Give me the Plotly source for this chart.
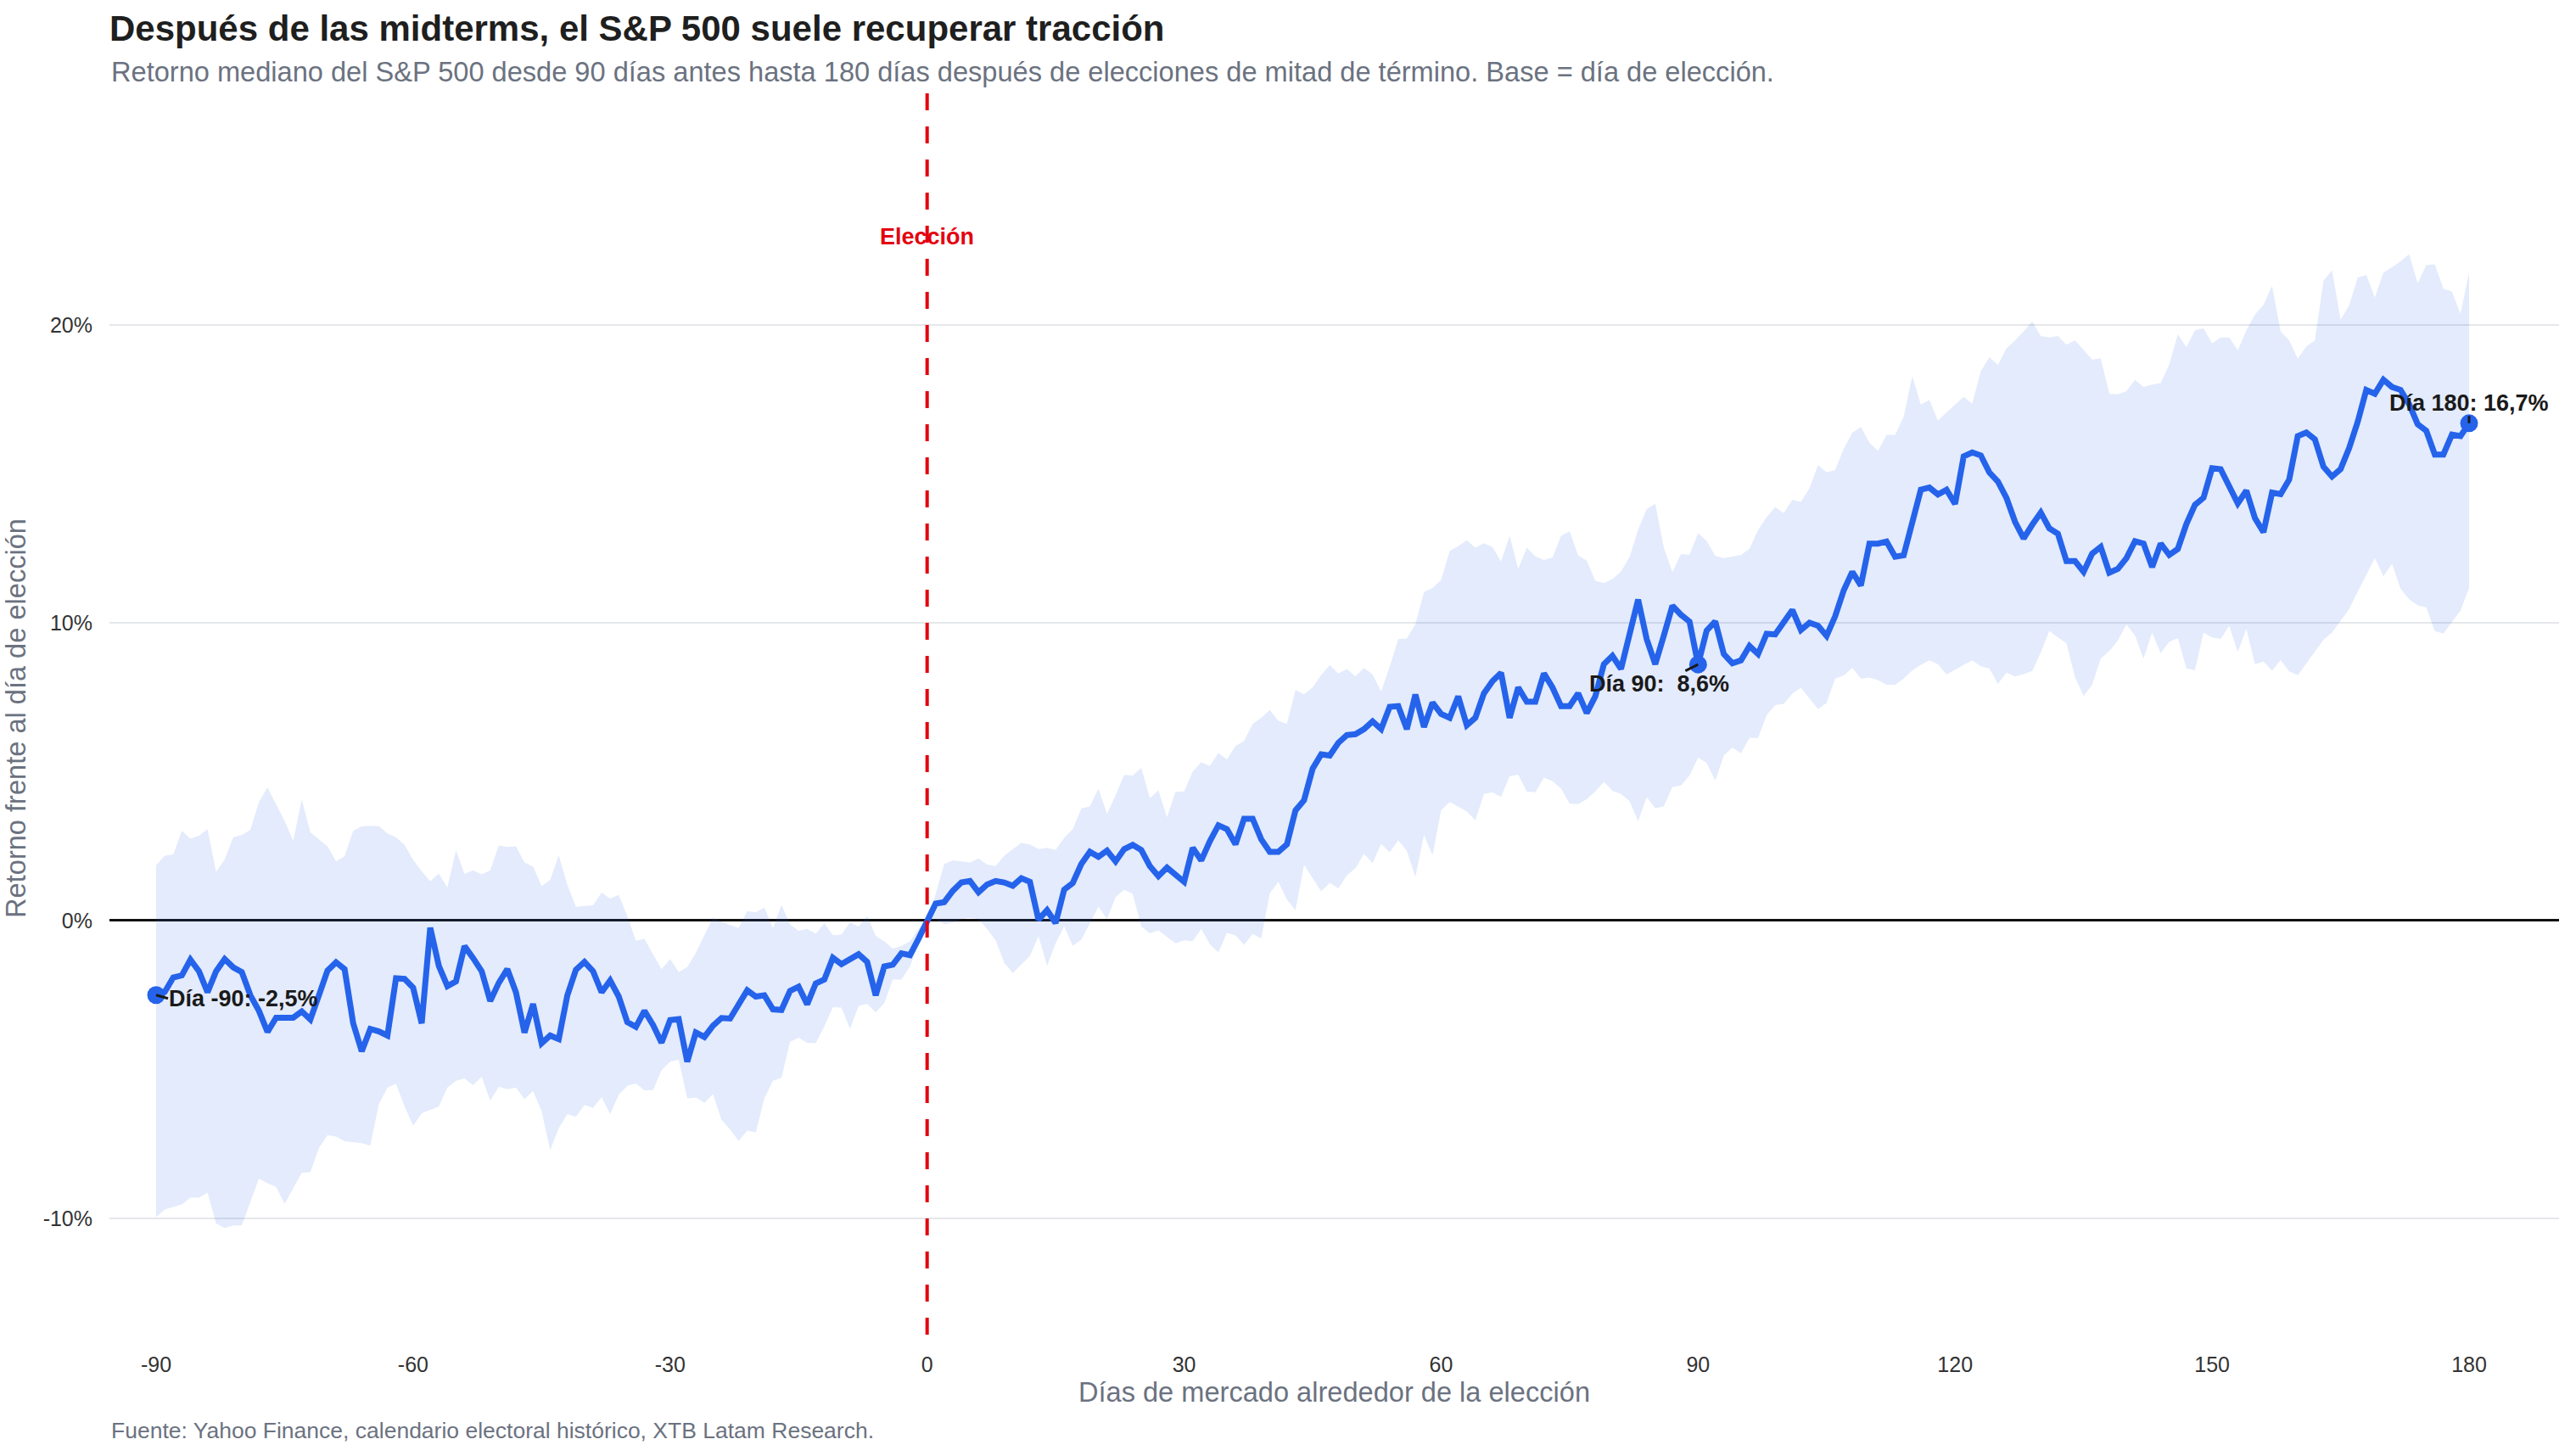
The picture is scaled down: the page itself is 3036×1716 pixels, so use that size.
import plotly.graph_objects as go

# ---------------- data ----------------
days = list(range(-90, 181))

median_pct = [
    -2.50, -2.40, -1.91, -1.84, -1.31, -1.70, -2.41, -1.70, -1.29, -1.57,
    -1.73, -2.51, -3.03, -3.74, -3.26, -3.26, -3.26, -3.05, -3.32, -2.51,
    -1.68, -1.40, -1.63, -3.45, -4.39, -3.64, -3.72, -3.86, -1.94, -1.96,
    -2.25, -3.45, -0.24, -1.52, -2.20, -2.04, -0.86, -1.26, -1.70, -2.70,
    -2.09, -1.63, -2.41, -3.76, -2.80, -4.12,
    -3.86, -3.98, -2.51, -1.65, -1.39, -1.70, -2.41, -2.01, -2.55, -3.41,
    -3.57, -3.03, -3.50, -4.10, -3.34, -3.31, -4.74, -3.76, -3.91, -3.53,
    -3.27, -3.29, -2.79, -2.34, -2.55, -2.51, -2.98, -3.00, -2.36, -2.22,
    -2.81, -2.11, -1.98, -1.25, -1.46, -1.29, -1.13, -1.39, -2.51, -1.54,
    -1.48, -1.10, -1.16, -0.61,
    0.00,
    0.57, 0.62, 1.00, 1.28, 1.33, 0.95, 1.21, 1.33, 1.28, 1.17,
    1.42, 1.30, 0.03, 0.35, -0.08, 1.04, 1.26, 1.90, 2.31, 2.14,
    2.35, 1.99, 2.40, 2.54, 2.37, 1.83, 1.49, 1.78, 1.55, 1.30,
    2.44, 2.02, 2.66, 3.20, 3.07, 2.56, 3.42, 3.42, 2.73, 2.31,
    2.31, 2.56, 3.70, 4.04, 5.10, 5.58,
    5.54, 5.97, 6.23, 6.26, 6.43, 6.69, 6.43, 7.18, 7.20, 6.43,
    7.59, 6.50, 7.32, 6.94, 6.81, 7.53, 6.56, 6.81, 7.63, 8.04,
    8.32, 6.81, 7.83, 7.35, 7.35, 8.30, 7.83, 7.20, 7.20, 7.63,
    6.97, 7.53, 8.61, 8.89, 8.45, 9.67, 10.78, 9.45, 8.61, 9.57,
    10.57, 10.27, 10.04, 8.60, 9.74, 10.05,
    8.95, 8.64, 8.74, 9.22, 8.95, 9.63, 9.61, 10.02, 10.43, 9.76,
    10.00, 9.90, 9.56, 10.22, 11.09, 11.71, 11.25, 12.66, 12.66, 12.73,
    12.22, 12.27, 13.29, 14.47, 14.54, 14.31, 14.47, 13.99, 15.59, 15.72,
    15.62, 15.05, 14.74, 14.19, 13.39, 12.83, 13.29, 13.70, 13.17, 12.99,
    12.07, 12.07, 11.71, 12.32, 12.55,
    11.68, 11.81, 12.17, 12.74, 12.66, 11.87, 12.66, 12.28, 12.48, 13.32,
    13.96, 14.20, 15.19, 15.16, 14.63, 14.01, 14.44, 13.52, 13.04, 14.37,
    14.32, 14.81, 16.27, 16.39, 16.16, 15.24, 14.91, 15.16, 15.87, 16.75,
    17.82, 17.69, 18.16, 17.92, 17.82, 17.34, 16.67, 16.45, 15.65, 15.65,
    16.32, 16.27, 16.70,
]

upper_pct = [
    1.86, 2.18, 2.22, 3.01, 2.75, 2.85, 3.07, 1.64, 2.05, 2.80,
    2.88, 3.05, 3.98, 4.47, 3.90, 3.35, 2.68, 4.07, 2.96, 2.72,
    2.49, 1.99, 2.16, 3.01, 3.16, 3.18, 3.17, 2.93, 2.80, 2.54,
    2.04, 1.66, 1.32, 1.58, 1.11, 2.36, 1.57, 1.69, 1.55, 1.69,
    2.52, 2.47, 2.49, 1.95, 1.81, 1.15,
    1.37, 2.19, 1.20, 0.46, 0.48, 0.51, 0.94, 0.74, 0.86, 0.15,
    -0.68, -0.61, -1.13, -1.63, -1.29, -1.73, -1.56, -1.08, -0.49, 0.10,
    -0.04, -0.15, -0.25, 0.32, 0.28, 0.44, -0.25, 0.53, -0.13, -0.34,
    -0.28, -0.44, -0.09, -0.49, -0.47, -0.06, -0.20, 0.15, -0.51, -0.70,
    -0.94, -0.85, -0.70, -0.28,
    0.00,
    0.90, 1.90, 2.02, 1.98, 1.95, 2.09, 1.88, 1.83, 2.18, 2.40,
    2.61, 2.56, 2.40, 2.44, 2.37, 2.78, 3.07, 3.77, 3.83, 4.43,
    3.58, 4.21, 4.89, 4.87, 5.13, 4.11, 4.37, 3.47, 4.32, 4.34,
    5.00, 5.32, 5.19, 5.63, 5.41, 5.86, 6.03, 6.60, 6.81, 7.07,
    6.71, 6.60, 7.74, 7.60, 7.83, 8.25,
    8.58, 8.30, 8.45, 8.20, 8.48, 8.27, 7.69, 8.53, 9.45, 9.47,
    9.96, 11.03, 11.17, 11.44, 12.41, 12.57, 12.77, 12.52, 12.67, 12.54,
    12.06, 12.92, 11.80, 12.52, 12.23, 12.11, 12.19, 12.92, 13.07, 12.26,
    12.09, 11.41, 11.33, 11.47, 11.72, 12.21, 13.13, 13.82, 14.00, 12.52,
    11.70, 12.31, 12.29, 13.01, 12.75, 12.25,
    12.17, 12.22, 12.27, 12.49, 13.11, 13.55, 13.88, 13.68, 14.13, 14.06,
    14.52, 15.29, 15.05, 15.13, 15.85, 16.38, 16.58, 16.05, 15.77, 16.31,
    16.31, 16.92, 18.28, 17.33, 17.48, 16.79, 17.07, 17.33, 17.59, 17.36,
    18.45, 18.92, 18.66, 19.22, 19.48, 19.78, 20.12, 19.63, 19.58, 19.63,
    19.34, 19.48, 19.17, 18.83, 18.88,
    17.69, 17.67, 17.78, 18.16, 17.92, 18.00, 18.05, 18.67, 19.69, 19.25,
    19.82, 19.89, 19.38, 19.58, 19.58, 19.15, 19.82, 20.35, 20.68, 21.32,
    19.79, 19.48, 18.87, 19.28, 19.48, 21.48, 21.84, 20.17, 20.66, 21.60,
    21.68, 20.92, 21.76, 21.94, 22.14, 22.38, 21.40, 22.01, 22.04, 21.22,
    21.12, 20.37, 21.76,
]

lower_pct = [
    -9.96, -9.70, -9.62, -9.53, -9.30, -9.30, -9.13, -10.17, -10.32, -10.24,
    -10.24, -9.44, -8.66, -8.82, -8.94, -9.51, -8.99, -8.47, -8.45, -7.64,
    -7.20, -7.25, -7.41, -7.43, -7.47, -7.56, -6.16, -5.61, -5.48, -6.24,
    -6.89, -6.47, -6.36, -6.24, -5.61, -5.38, -5.30, -5.53, -5.24, -6.05,
    -5.58, -5.66, -5.61, -6.00, -5.72, -6.40,
    -7.71, -6.97, -6.50, -6.59, -6.19, -6.29, -5.93, -6.50, -5.85, -5.55,
    -5.47, -5.70, -5.69, -5.02, -4.74, -4.67, -5.97, -5.94, -6.12, -5.83,
    -6.69, -7.02, -7.40, -7.05, -7.11, -5.97, -5.38, -5.28, -4.07, -3.93,
    -4.10, -4.12, -3.55, -2.91, -2.92, -3.63, -2.87, -2.79, -3.08, -2.77,
    -1.98, -1.98, -1.54, -0.80,
    0.00,
    0.05, -0.12, -0.07, 0.05, 0.09, 0.05, -0.28, -0.66, -1.42, -1.76,
    -1.47, -1.19, -0.52, -1.52, -0.76, -0.19, -0.85, -0.64, -0.09, 0.47,
    0.05, 0.79, 1.04, 0.90, -0.19, -0.43, -0.33, -0.54, -0.76, -0.66,
    -0.69, -0.28, -0.79, -1.07, -0.41, -0.50, -0.81, -0.45, -0.60, 0.92,
    1.30, 0.71, 0.35, 1.87, 1.42, 0.98,
    1.27, 1.08, 1.52, 1.76, 2.24, 1.93, 2.58, 2.29, 2.70, 2.34,
    1.47, 2.88, 2.19, 3.70, 3.98, 3.82, 3.67, 3.36, 4.25, 4.31,
    4.15, 4.85, 4.90, 4.34, 4.31, 4.80, 4.69, 4.44, 3.93, 3.91,
    4.08, 4.34, 4.66, 4.36, 4.25, 4.01, 3.33, 4.15, 3.77, 3.84,
    4.49, 4.54, 4.87, 5.48, 5.29, 4.70,
    5.54, 5.81, 5.62, 6.13, 6.13, 6.90, 7.24, 7.28, 7.62, 7.82,
    7.46, 7.10, 7.31, 8.13, 8.23, 8.49, 8.13, 8.16, 8.08, 7.92,
    7.92, 8.13, 8.40, 8.59, 8.74, 8.61, 8.26, 8.43, 8.59, 8.74,
    8.54, 8.47, 7.95, 8.33, 8.20, 8.28, 8.38, 9.00, 9.73, 9.51,
    9.32, 8.18, 7.54, 7.92, 8.80,
    9.05, 9.41, 9.94, 9.57, 8.80, 9.67, 8.98, 9.36, 9.49, 8.47,
    8.41, 9.67, 9.51, 9.46, 9.90, 9.02, 9.80, 8.61, 8.70, 8.39,
    8.75, 8.37, 8.24, 8.64, 9.02, 9.43, 9.67, 10.08, 10.46, 11.05,
    11.61, 12.17, 11.56, 11.99, 11.15, 10.79, 10.59, 10.52, 9.72, 9.64,
    10.03, 10.41, 11.17,
]

x_tick_vals = [-90, -60, -30, 0, 30, 60, 90, 120, 150, 180]
x_tick_text = ["-90", "-60", "-30", "0", "30", "60", "90", "120", "150", "180"]
y_tick_vals = [-10, 0, 10, 20]
y_tick_text = ["-10%", "0%", "10%", "20%"]

highlight_days = [-90, 90, 180]
highlight_labels = ["Día -90: -2,5%", "Día 90:\u00a0 8,6%", "Día 180: 16,7%"]
election_day = 0

title_text = "Después de las midterms, el S&P 500 suele recuperar tracción"
subtitle_text = ("Retorno mediano del S&P 500 desde 90 días antes hasta 180 días después "
                 "de elecciones de mitad de término. Base = día de elección.")
x_title = "Días de mercado alrededor de la elección"
y_title = "Retorno frente al día de elección"
source_text = "Fuente: Yahoo Finance, calendario electoral histórico, XTB Latam Research."
election_label = "Elección"

# ---------------- styles ----------------
FONT = "Liberation Sans, Arial, Helvetica, sans-serif"
BLUE = "#2563eb"
BAND = "rgba(37,99,235,0.13)"
RED = "#e3000f"
GRAY = "#6b7280"
DARK = "#1f1f1f"

W, H = 3036, 1716
ML, MR, MT, MB = 129, 20, 110, 133

fig = go.Figure()

# band: lower then upper filled to it
fig.add_trace(go.Scatter(x=days, y=lower_pct, mode="lines",
                         line=dict(width=0, color=BAND), hoverinfo="skip",
                         showlegend=False))
fig.add_trace(go.Scatter(x=days, y=upper_pct, mode="lines",
                         line=dict(width=0, color=BAND), fill="tonexty",
                         fillcolor=BAND, hoverinfo="skip", showlegend=False))
# median line
fig.add_trace(go.Scatter(x=days, y=median_pct, mode="lines",
                         line=dict(width=7, color=BLUE), showlegend=False))
# highlighted points
idx = [days.index(d) for d in highlight_days]
hl_y = [median_pct[i] for i in idx]
fig.add_trace(go.Scatter(x=highlight_days, y=hl_y, mode="markers",
                         marker=dict(size=21, color=BLUE), showlegend=False))

# label placements (pixel offsets / anchors)
label_style = [
    dict(ax=14, ay=4, xanchor="left", yanchor="middle"),
    dict(ax=-46, ay=23, xanchor="center", yanchor="middle"),
    dict(ax=0, ay=-24, xanchor="center", yanchor="middle"),
]
annotations = []
for d, yv, txt, st in zip(highlight_days, hl_y, highlight_labels, label_style):
    annotations.append(dict(
        x=d, y=yv, xref="x", yref="y", text=txt, showarrow=True,
        arrowhead=0, arrowwidth=3, arrowcolor="#1a1a1a", standoff=0,
        startstandoff=0, ax=st["ax"], ay=st["ay"], xanchor=st["xanchor"],
        yanchor=st["yanchor"], borderpad=0,
        font=dict(family=FONT, size=27, color="#1a1a1a", weight=700)))

# election label
annotations.append(dict(x=election_day, xref="x", y=(H - MB - 279) / (H - MB - MT), yref="paper",
                        text=election_label, showarrow=False, xanchor="center",
                        yanchor="middle",
                        font=dict(family=FONT, size=27, color=RED, weight=700)))
# subtitle
annotations.append(dict(x=0, xref="paper", y=(H - MB - 84) / (H - MB - MT), yref="paper",
                        text=subtitle_text, showarrow=False, xanchor="left",
                        yanchor="middle", font=dict(family=FONT, size=32.6, color=GRAY)))
# source
annotations.append(dict(x=0, xref="paper", y=(H - MB - 1686) / (H - MB - MT), yref="paper",
                        text=source_text, showarrow=False, xanchor="left",
                        yanchor="middle", font=dict(family=FONT, size=26.5, color=GRAY)))

fig.add_shape(type="line", xref="x", yref="paper", x0=election_day, x1=election_day,
              y0=1, y1=0, line=dict(color=RED, width=4, dash="20px,19px"), layer="above")

fig.update_layout(
    width=W, height=H,
    margin=dict(l=ML, r=MR, t=MT, b=MB),
    paper_bgcolor="white", plot_bgcolor="white",
    font=dict(family=FONT, color="#333333"),
    showlegend=False,
    title=dict(text=title_text, x=ML / W, xanchor="left", xref="container",
               y=1 - 33 / H, yanchor="middle", yref="container",
               font=dict(family=FONT, size=42, color=DARK, weight=700)),
    annotations=annotations,
    xaxis=dict(range=[-95.45, 190.5], showgrid=False, zeroline=False, showline=False,
               tickvals=x_tick_vals, ticktext=x_tick_text,
               ticks="outside", ticklen=3, tickcolor="rgba(0,0,0,0)",
               tickfont=dict(family=FONT, size=25, color="#333333"),
               title=dict(text=x_title, standoff=7,
                          font=dict(family=FONT, size=32.6, color=GRAY))),
    yaxis=dict(range=[-14.19, 27.78], showgrid=True, gridcolor="#e5e7eb", gridwidth=2,
               zeroline=True, zerolinecolor="#111111", zerolinewidth=2.5,
               showline=False, tickvals=y_tick_vals, ticktext=y_tick_text,
               ticks="outside", ticklen=14, tickcolor="rgba(0,0,0,0)",
               tickfont=dict(family=FONT, size=25, color="#333333"),
               title=dict(text=y_title, standoff=16,
                          font=dict(family=FONT, size=32.6, color=GRAY))),
)

fig.write_html("out.html")
